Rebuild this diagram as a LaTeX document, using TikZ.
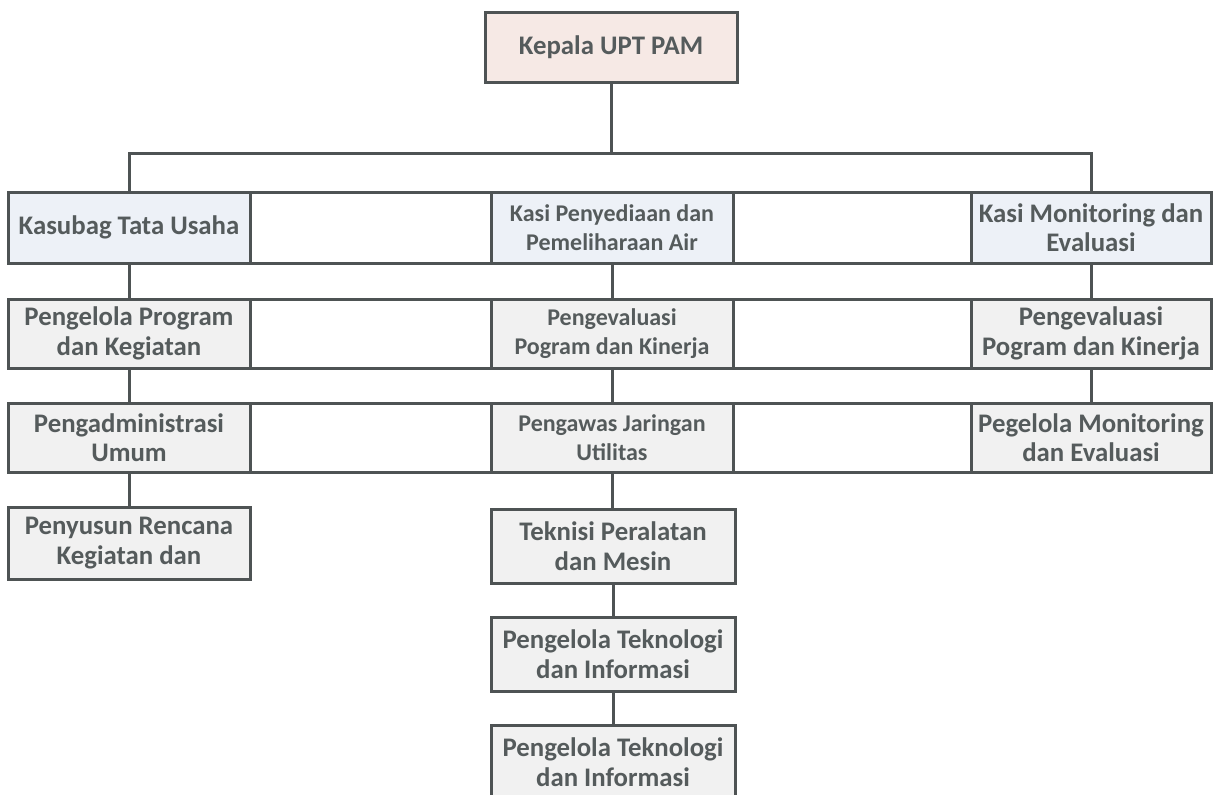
\documentclass[tikz,border=0pt]{standalone}
\usepackage{fontspec}
\setmainfont{Carlito}
\definecolor{linec}{HTML}{4E5354}
\definecolor{txt}{HTML}{555B5C}
\definecolor{pinkfill}{HTML}{F6E9E5}
\definecolor{bluefill}{HTML}{EDF1F7}
\definecolor{grayfill}{HTML}{F1F1F1}
\tikzset{
  cell/.style={draw=linec, line width=3pt, inner sep=0pt, align=center, text=txt,
    font=\bfseries\fontsize{26.8}{29.5}\selectfont, minimum width=#1},
  cell/.default=242pt,
  smalltext/.style={font=\bfseries\fontsize{24}{28.5}\selectfont},
  headbox/.style={cell, fill=pinkfill},
  secbox/.style={cell, fill=bluefill},
  unitbox/.style={cell, fill=grayfill},
  gapbox/.style={cell=#1, fill=white},
  h1/.style={minimum height=71pt},
  h2/.style={minimum height=69pt},
  h4/.style={minimum height=72pt},
  h5/.style={minimum height=74pt},
  link/.style={draw=linec, line width=3pt},
}
\begin{document}
\begin{tikzpicture}[x=1pt,y=-1pt]
\fill[white] (0,0) rectangle (1216,795);
\useasboundingbox (0,0) rectangle (1216,795);
\clip (0,0) rectangle (1216,795);
\node[headbox, minimum width=252pt, minimum height=70pt] (kepala) at (611,47) {Kepala UPT PAM};
\coordinate (bus) at (611,153);
\coordinate (busL) at (129,153);
\coordinate (busR) at (1091,153);
% row 1
\node[secbox, h1] (kasubag) at (129,227.5) {Kasubag Tata Usaha};
\node[gapbox=241pt, h1] (g1a) at (370.5,227.5) {};
\node[secbox, h1, smalltext] (kasiair) at (612,227.5) {Kasi Penyediaan dan\\Pemeliharaan Air};
\node[gapbox=238pt, h1] (g1b) at (852,227.5) {};
\node[secbox, h1, minimum width=240pt] (kasimon) at (1091,227.5) {Kasi Monitoring dan\\Evaluasi};
% row 2
\node[unitbox, h2] (peng1) at (129,333.5) {Pengelola Program\\dan Kegiatan};
\node[gapbox=241pt, h2] (g2a) at (370.5,333.5) {};
\node[unitbox, h2, smalltext] (peval1) at (612,333.5) {Pengevaluasi\\Pogram dan Kinerja};
\node[gapbox=238pt, h2] (g2b) at (852,333.5) {};
\node[unitbox, h2, minimum width=240pt] (peval2) at (1091,333.5) {Pengevaluasi\\Pogram dan Kinerja};
% row 3
\node[unitbox, h2] (padm) at (129,437.5) {Pengadministrasi\\Umum};
\node[gapbox=241pt, h2] (g3a) at (370.5,437.5) {};
\node[unitbox, h2, smalltext] (pjar) at (612,437.5) {Pengawas Jaringan\\Utilitas};
\node[gapbox=238pt, h2] (g3b) at (852,437.5) {};
\node[unitbox, h2, minimum width=240pt] (pmon) at (1091,437.5) {Pegelola Monitoring\\dan Evaluasi};
% row 4+
\node[unitbox, h4] (pren) at (129,543) {Penyusun Rencana\\Kegiatan dan};
\node[unitbox, h5, minimum width=244pt] (tekn) at (613,546) {Teknisi Peralatan\\dan Mesin};
\node[unitbox, h5, minimum width=244pt] (ptek1) at (613,654) {Pengelola Teknologi\\dan Informasi};
\node[unitbox, h5, minimum width=244pt] (ptek2) at (613,762) {Pengelola Teknologi\\dan Informasi};
% connectors
\draw[link] (kepala.south) -- (bus);
\draw[link] (kasubag.north) |- (busL) -- (busR) -- (kasimon.north);
\draw[link] (kasubag.south) -- (peng1.north);
\draw[link] (kasiair.south) -- (peval1.north);
\draw[link] (kasimon.south) -- (peval2.north);
\draw[link] (peng1.south) -- (padm.north);
\draw[link] (peval1.south) -- (pjar.north);
\draw[link] (peval2.south) -- (pmon.north);
\draw[link] (padm.south) -- (pren.north);
\draw[link] (pjar.south) -- (pjar.south |- tekn.north);
\draw[link] (tekn.south) -- (tekn.south |- ptek1.north);
\draw[link] (ptek1.south) -- (ptek1.south |- ptek2.north);
\end{tikzpicture}
\end{document}
